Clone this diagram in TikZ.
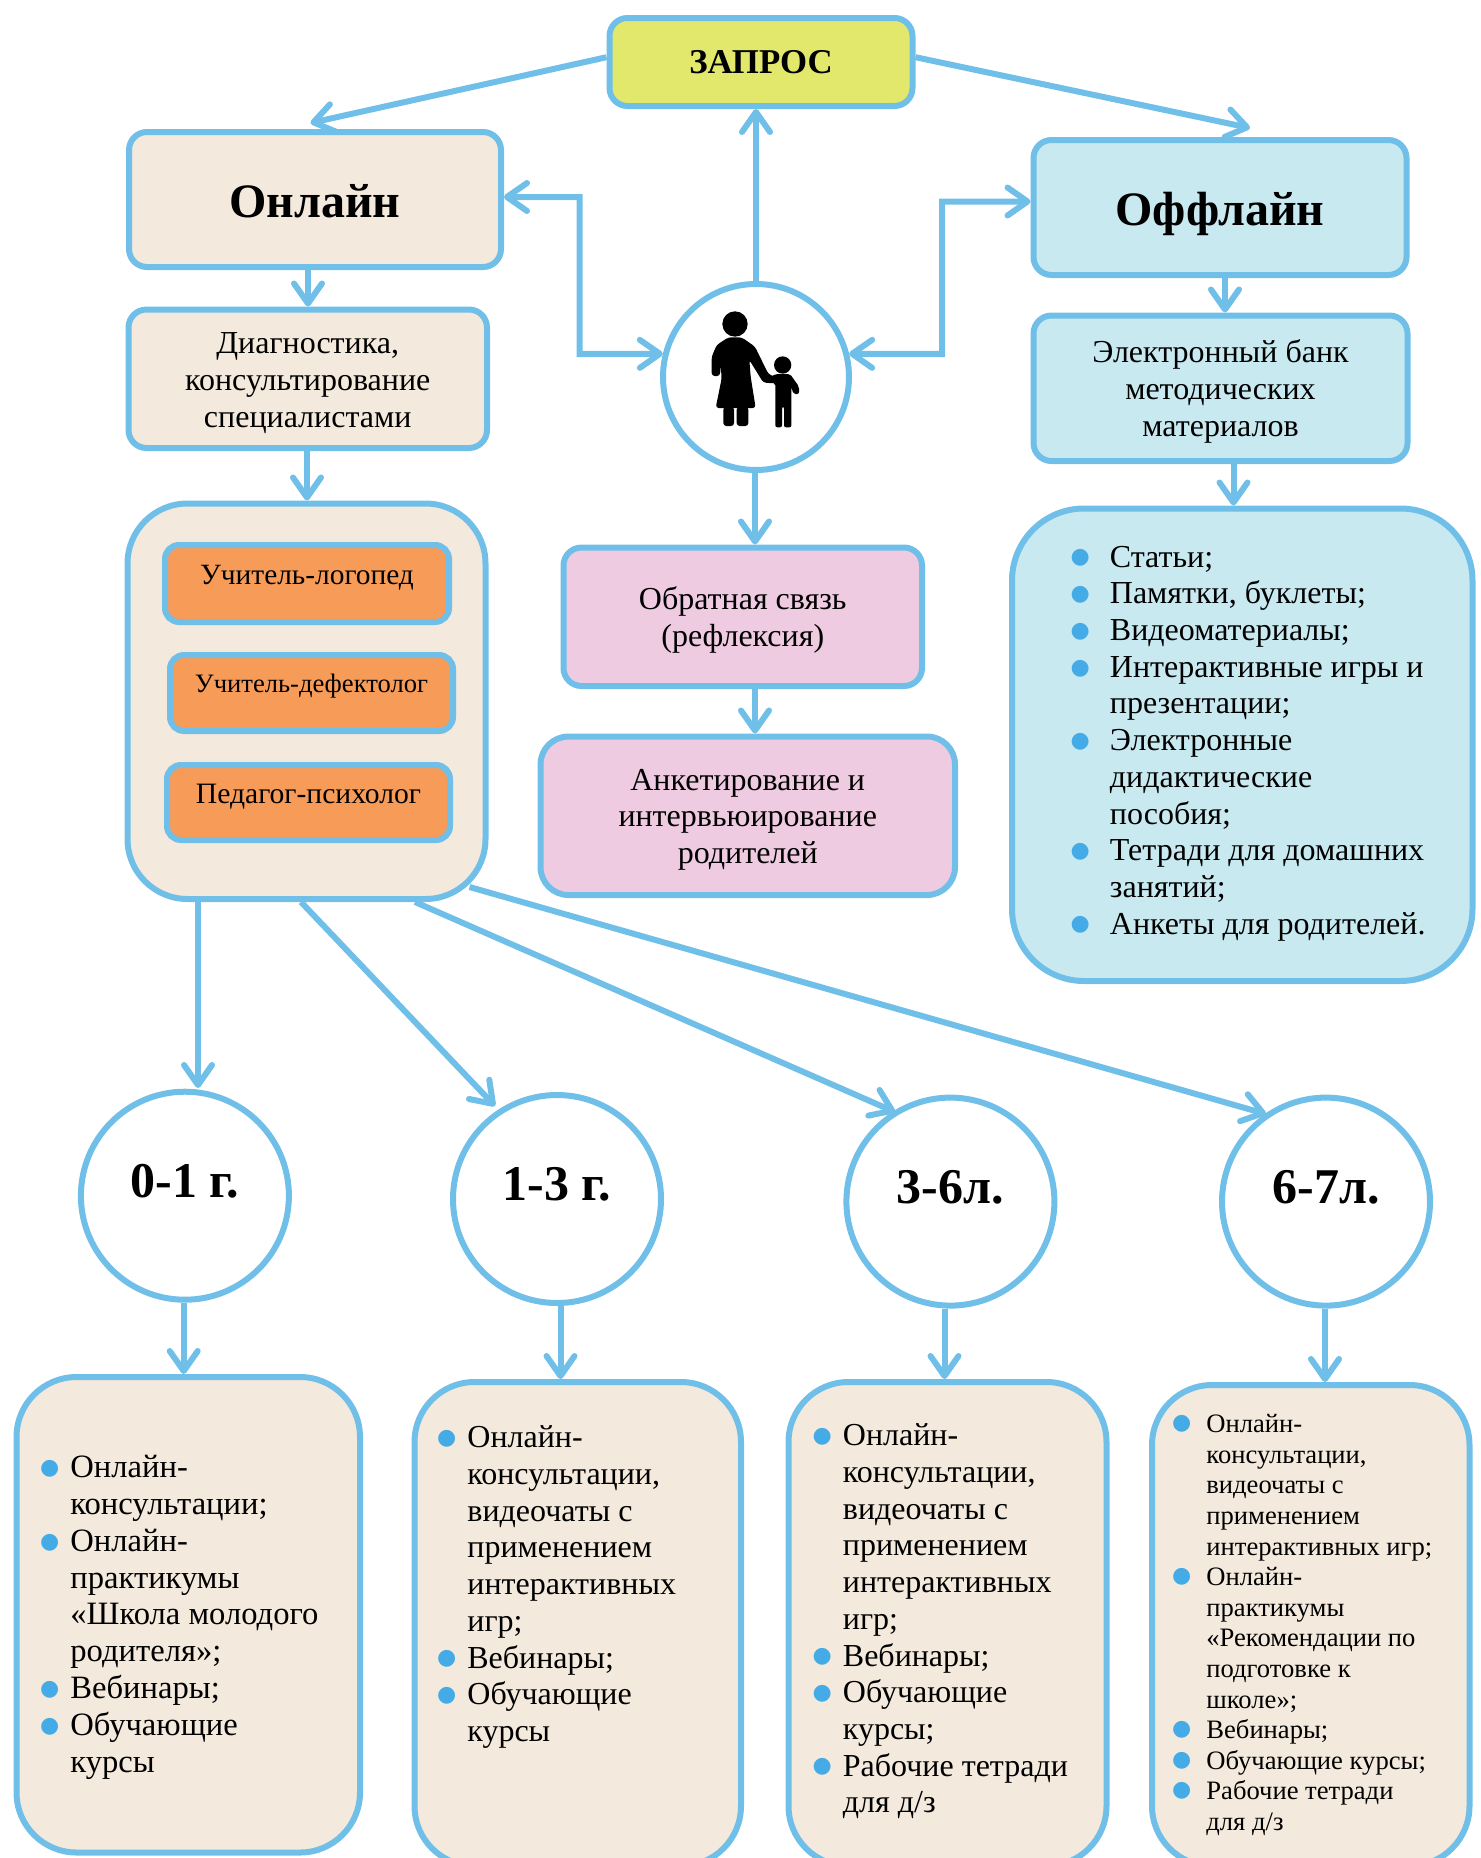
\documentclass[tikz,border=0pt]{standalone}
\usepackage{fontspec}
\setmainfont{Liberation Serif}
\newfontfamily\dejav{DejaVu Sans}
\usetikzlibrary{arrows.meta,calc}
\definecolor{lb}{HTML}{70BFE8}
\definecolor{bul}{HTML}{45ABE6}
\definecolor{beige}{HTML}{F3E9DC}
\definecolor{aqua}{HTML}{C8E9F0}
\definecolor{pinkb}{HTML}{EFCBE2}
\definecolor{yell}{HTML}{E2E86C}
\definecolor{orng}{HTML}{F79B58}
\newcommand{\bulx}[1]{\leavevmode\llap{\raisebox{1.6pt}{\textcolor{bul}{\fontsize{11}{11}\dejav ●}}\hspace{#1}}}
\newcommand{\up}[2]{\raisebox{#1}[0pt][0pt]{#2}}
\newcommand{\tp}{\rule{0pt}{14.6pt}}
\newcommand{\rbox}[7]{\node[#6,minimum width={(#4-#2)*0.5pt},minimum height={(#5-#3)*0.5pt}] (#1) at ({(#2+#4)/2},{(#3+#5)/2}) {#7};}
\tikzset{
 x=0.5pt,y=-0.5pt,
 bx/.style={draw=lb,line width=3pt,rounded corners=9pt,align=center,inner sep=0pt,font=\fontsize{16}{18.4}\selectfont},
 big/.style={bx,rounded corners=30pt},
 title/.style={bx,font=\fontsize{24}{28}\selectfont\bfseries},
 orangebox/.style={bx,fill=orng,rounded corners=7pt},
 age/.style={circle,draw=lb,line width=3pt,fill=white,inner sep=0pt,minimum size=104pt,font=\fontsize{25}{28}\selectfont\bfseries},
 arr/.style={draw=lb,line width=3pt,-{Straight Barb[length=10pt,width=14pt,round]}},
 darr/.style={draw=lb,line width=3pt,{Straight Barb[length=10pt,width=14pt,round]}-{Straight Barb[length=10pt,width=14pt,round]}},
 lst/.style={anchor=north west,inner sep=0pt,align=left,font=\fontsize{16}{18.35}\selectfont},
 lstb/.style={lst,font=\fontsize{16.3}{18.4}\selectfont},
 lsts/.style={anchor=north west,inner sep=0pt,align=left,font=\fontsize{13.3}{15.3}\selectfont},
}
\begin{document}
\begin{tikzpicture}
\useasboundingbox (0,0) rectangle (1481,1858);
% boxes
\rbox{zapros}{609.5}{18}{912.5}{106}{bx,fill=yell,font=\fontsize{17.4}{20}\selectfont\bfseries}{ЗАПРОС}
\rbox{onl}{129}{132}{501}{267}{title,fill=beige}{\up{-9pt}{Онлайн}}
\rbox{off}{1033.5}{140}{1406.5}{275}{title,fill=aqua}{\up{-9pt}{Оффлайн}}
\rbox{diag}{128.5}{309.5}{487}{448}{bx,fill=beige}{\tp Диагностика,\\консультирование\\специалистами}
\rbox{bank}{1033.5}{315.5}{1407.5}{461}{bx,fill=aqua}{\tp Электронный банк\\методических\\материалов}
\rbox{spec}{127.5}{503.5}{485.5}{899}{big,fill=beige}{}
\rbox{o1}{165}{545}{449}{622}{orangebox,font=\fontsize{14.7}{17}\selectfont}{\up{-0.5pt}{Учитель-логопед}}
\rbox{o2}{170}{655}{453}{731}{orangebox,font=\fontsize{13.3}{16}\selectfont}{\up{0.5pt}{Учитель-дефектолог}}
\rbox{o3}{167}{765}{450}{840}{orangebox,font=\fontsize{14.8}{17}\selectfont}{\up{-0.5pt}{Педагог-психолог}}
\node[circle,draw=lb,line width=3pt,fill=white,minimum size=93pt,inner sep=0pt] (fam) at (756,377) {};
\rbox{fb}{563.5}{547.5}{922}{686}{bx,fill=pinkb}{\tp Обратная связь\\(рефлексия)}
\rbox{ank}{540.5}{736.5}{955}{895}{bx,fill=pinkb,rounded corners=14pt}{\tp Анкетирование и\\интервьюирование\\родителей}
\rbox{mat}{1012}{508.5}{1472.5}{981}{big,fill=aqua,rounded corners=36pt}{}
% age circles
\node[age] (a1) at (184.9,1195.7) {\up{-0.8pt}{0-1 г.}};
\node[age] (a2) at (557,1199) {\up{-0.8pt}{1-3 г.}};
\node[age] (a3) at (950.4,1201.6) {\up{-0.8pt}{3-6л.}};
\node[age] (a4) at (1326,1201.6) {\up{-0.8pt}{6-7л.}};
% bottom boxes
\rbox{b1}{16.5}{1377}{360}{1852.5}{big,fill=beige}{}
\rbox{b2}{414.5}{1382}{741}{1866}{big,fill=beige}{}
\rbox{b3}{788.5}{1382}{1106.5}{1866}{big,fill=beige}{}
\rbox{b4}{1152}{1385}{1469.5}{1866}{big,fill=beige}{}
% lists
\node[lst] (matT) at (1109.5,545.5) {\bulx{10pt}Статьи;\\\bulx{10pt}Памятки, буклеты;\\\bulx{10pt}Видеоматериалы;\\\bulx{10pt}Интерактивные игры и\\презентации;\\\bulx{10pt}Электронные\\дидактические\\пособия;\\\bulx{10pt}Тетради для домашних\\занятий;\\\bulx{10pt}Анкеты для родителей.};
\node[lstb] (b1T) at (70,1455) {\bulx{5.6pt}Онлайн-\\консультации;\\\bulx{5.6pt}Онлайн-\\практикумы\\«Школа молодого\\родителя»;\\\bulx{5.6pt}Вебинары;\\\bulx{5.6pt}Обучающие\\курсы};
\node[lst] (b2T) at (467,1425.5) {\bulx{5.6pt}Онлайн-\\консультации,\\видеочаты с\\применением\\интерактивных\\игр;\\\bulx{5.6pt}Вебинары;\\\bulx{5.6pt}Обучающие\\курсы};
\node[lst] (b3T) at (842.5,1423.5) {\bulx{5.6pt}Онлайн-\\консультации,\\видеочаты с\\применением\\интерактивных\\игр;\\\bulx{5.6pt}Вебинары;\\\bulx{5.6pt}Обучающие\\курсы;\\\bulx{5.6pt}Рабочие тетради\\для д/з};
\node[lsts] (b4T) at (1206,1414) {\bulx{7.6pt}Онлайн-\\консультации,\\видеочаты с\\применением\\интерактивных игр;\\\bulx{7.6pt}Онлайн-\\практикумы\\«Рекомендации по\\подготовке к\\школе»;\\\bulx{7.6pt}Вебинары;\\\bulx{7.6pt}Обучающие курсы;\\\bulx{7.6pt}Рабочие тетради\\для д/з};
% free arrow ends
\coordinate (onlEnd) at (310.5,123);
\coordinate (offEnd) at (1250,128);
\coordinate (a1End) at (198,1088);
\coordinate (a2End) at (495,1106);
\coordinate (a3End) at (895,1112);
\coordinate (a4End) at (1266,1114);
% connectors
\draw[arr] ([yshift=2.4pt]zapros.west) -- (onlEnd);
\draw[arr] ([yshift=2.4pt]zapros.east) -- (offEnd);
\draw[arr] (fam.north) -- (zapros.south -| fam.north);
\draw[darr] (onl.east |- 0,197) -- (579.5,197) -- (579.5,354) -- (fam.166);
\draw[darr] (off.west |- 0,201.5) -- (942,201.5) -- (942,354) -- (fam.14);
\draw[arr] (onl.south -| 308,0) -- (diag.north -| 308,0);
\draw[arr] (off.south -| 1225,0) -- (bank.north -| 1225,0);
\draw[arr] (diag.south -| 307,0) -- (spec.north -| 307,0);
\draw[arr] (bank.south -| 1233.5,0) -- (mat.north -| 1233.5,0);
\draw[arr] (fam.south -| 755,0) -- (fb.north -| 755,0);
\draw[arr] (fb.south -| 755,0) -- (ank.north -| 755,0);
\draw[arr] (spec.south -| 198,0) -- (a1End);
\draw[arr] (spec.south -| 301,0) -- (a2End);
\draw[arr] (spec.south -| 415,0) -- (a3End);
\draw[arr] ([xshift=-9.5pt,yshift=7.5pt]spec.south east) -- (a4End);
\draw[arr] (a1.south -| 183.7,0) -- (b1.north -| 183.7,0);
\draw[arr] (a2.south -| 560.5,0) -- (b2.north -| 560.5,0);
\draw[arr] (a3.south -| 944.5,0) -- (b3.north -| 944.5,0);
\draw[arr] (a4.south -| 1325,0) -- (b4.north -| 1325,0);
% mother and child
\begin{scope}[xshift=300pt,yshift=-125pt,x=0.16667pt,y=-0.16667pt]
\fill[black] (405,222) circle (38);
\fill[black] (548,345) circle (26);
\fill[black,rounded corners=1.5pt] (385,262) -- (425,262) -- (465,290) -- (505,372) -- (535,385) -- (525,400) -- (490,398) -- (448,330) -- (452,380) -- (467,474) -- (347,474) -- (365,385) -- (362,345) -- (360,378) -- (335,378) -- (335,320) -- (350,285) -- cycle;
\fill[black,rounded corners=1.5pt] (370,470) -- (402,470) -- (402,528) -- (370,528) -- cycle;
\fill[black,rounded corners=1.5pt] (410,470) -- (445,470) -- (445,528) -- (410,528) -- cycle;
\fill[black,rounded corners=1pt] (527,372) -- (570,372) -- (597,410) -- (597,432) -- (580,432) -- (574,410) -- (574,532) -- (552,532) -- (552,470) -- (546,470) -- (546,532) -- (526,532) -- (526,400) -- (505,395) -- (510,382) -- cycle;
\end{scope}
\end{tikzpicture}
\end{document}
